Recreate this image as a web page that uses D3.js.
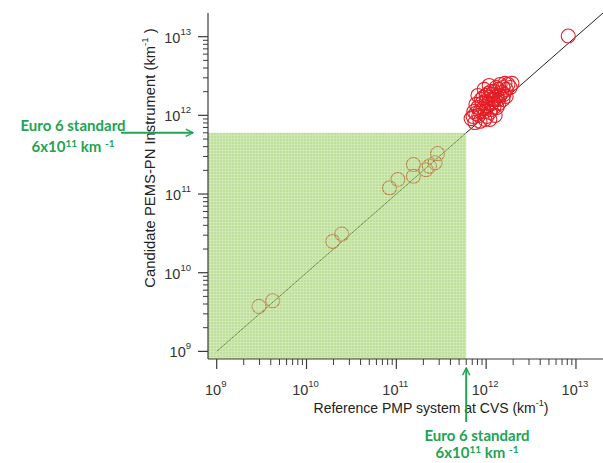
<!DOCTYPE html>
<html><head><meta charset="utf-8">
<script src="https://cdn.jsdelivr.net/npm/d3@7"></script>
<style>
html,body{margin:0;padding:0;background:#fff;}
svg{display:block;}
</style></head>
<body>
<svg id="chart" width="603" height="463"></svg>
<script>
// ---------- data ----------
const refX = [2.96e9, 4.2e9, 1.96e10, 2.47e10, 8.4e10, 1.04e11, 1.55e11, 1.55e11, 2.14e11, 2.33e11, 2.7e11, 2.88e11,
  6.8e11, 7.3e11, 7.7e11, 8.3e11, 8.8e11, 9.2e11, 9.7e11, 1.0e12, 1.05e12, 1.1e12, 1.13e12, 1.19e12, 1.22e12,
  1.29e12, 1.32e12, 1.39e12, 1.43e12, 1.5e12, 1.54e12, 1.62e12, 1.67e12, 1.75e12, 1.85e12, 8.1e11, 9.5e11,
  1.08e12, 1.26e12, 1.02e12, 8.55e11, 1.16e12, 1.36e12, 1.58e12, 1.94e12, 7.5e11, 1.1e12,
  9.0e11, 1.02e12, 1.16e12, 1.26e12, 1.08e12, 9.7e11, 8.1e11, 1.43e12, 1.22e12, 1.0e12,
  1.32e12, 1.54e12, 8.55e11, 1.13e12, 7.7e11, 1.36e12, 1.05e12, 9.24e11, 1.67e12, 7.16e11,
  8.2e12];
const candY = [3.73e9, 4.4e9, 2.5e10, 3.1e10, 1.2e11, 1.53e11, 2.37e11, 1.68e11, 2.04e11, 2.26e11, 2.5e11, 3.27e11,
  9.1e11, 1.12e12, 1.38e12, 1.0e12, 1.59e12, 1.22e12, 8.9e11, 1.79e12, 1.42e12, 1.09e12, 2.01e12, 1.59e12, 1.26e12,
  2.26e12, 1.79e12, 1.42e12, 2.47e12, 1.95e12, 1.59e12, 2.55e12, 2.14e12, 2.47e12, 2.26e12, 1.79e12, 2.14e12,
  2.4e12, 1.0e12, 9.7e11, 8.4e11, 1.85e12, 2.14e12, 1.85e12, 2.55e12, 8.1e11, 8.9e11,
  1.42e12, 1.26e12, 1.42e12, 1.59e12, 1.69e12, 1.12e12, 1.26e12, 1.79e12, 2.01e12, 1.5e12,
  1.26e12, 2.26e12, 1.12e12, 1.19e12, 1.06e12, 1.59e12, 1.9e12, 1.69e12, 1.74e12, 9.68e11,
  1.02e13];
const axisDomain = [8e8, 2e13];
const majorTicks = [1e9, 1e10, 1e11, 1e12, 1e13];
const tickExponents = ["9", "10", "11", "12", "13"];
const oneToOne = [1e9, 2e13];
const euro6Limit = 6e11;
const xLabel = "Reference PMP system at CVS (km";
const yLabel = "Candidate PEMS-PN Instrument (km";
const noteLine1 = "Euro 6 standard";
const noteLine2 = ["6x10", "11", " km ", "-1"];

// ---------- chart ----------
(function () {
const svg = d3.select("#chart");
const pLeft = 208, pRight = 603, pTop = 13, pBottom = 359;
const x = d3.scaleLog().domain(axisDomain).range([pLeft, pRight]);
const y = d3.scaleLog().domain(axisDomain).range([pBottom, pTop]);

const minor = [];
majorTicks.slice(0, -1).forEach(d => { for (let k = 2; k <= 9; k++) minor.push(d * k); });

const axisColor = "#3a3a3a";

// 1:1 line
svg.append("line")
  .attr("x1", x(oneToOne[0])).attr("y1", y(oneToOne[0]))
  .attr("x2", x(oneToOne[1])).attr("y2", y(oneToOne[1]))
  .attr("stroke", "#222").attr("stroke-width", 1);

// points
svg.append("g").selectAll("circle").data(refX.map((d, i) => [d, candY[i]])).join("circle")
  .attr("cx", d => x(d[0])).attr("cy", d => y(d[1])).attr("r", 7)
  .attr("fill", "none").attr("stroke", "#e41e26").attr("stroke-width", 1.1);

// green shaded region (semi-transparent overlay)
const defs = svg.append("defs");
const pat = defs.append("pattern").attr("id", "grid").attr("width", 3).attr("height", 3)
  .attr("patternUnits", "userSpaceOnUse");
pat.append("path").attr("d", "M0,0.5H3M0.5,0V3").attr("stroke", "#ffffff").attr("stroke-width", 0.8).attr("opacity", 0.3);

const gx0 = x(axisDomain[0]), gx1 = x(euro6Limit), gy0 = y(euro6Limit), gy1 = y(axisDomain[0]);
svg.append("rect").attr("x", gx0).attr("y", gy0).attr("width", gx1 - gx0).attr("height", gy1 - gy0)
  .attr("fill", "#92cc58").attr("opacity", 0.6);
svg.append("rect").attr("x", gx0).attr("y", gy0).attr("width", gx1 - gx0).attr("height", gy1 - gy0)
  .attr("fill", "url(#grid)");

// axes lines
svg.append("line").attr("x1", pLeft).attr("x2", pRight).attr("y1", pBottom).attr("y2", pBottom)
  .attr("stroke", axisColor).attr("stroke-width", 1.2);
svg.append("line").attr("x1", pLeft).attr("x2", pLeft).attr("y1", pTop).attr("y2", pBottom)
  .attr("stroke", axisColor).attr("stroke-width", 1.2);

// x ticks
const xt = svg.append("g");
xt.selectAll("line.maj").data(majorTicks).join("line").attr("class", "maj")
  .attr("x1", d => x(d)).attr("x2", d => x(d)).attr("y1", pBottom).attr("y2", pBottom + 10)
  .attr("stroke", axisColor).attr("stroke-width", 1.2);
xt.selectAll("line.min").data(minor).join("line").attr("class", "min")
  .attr("x1", d => x(d)).attr("x2", d => x(d)).attr("y1", pBottom).attr("y2", pBottom + 6)
  .attr("stroke", axisColor).attr("stroke-width", 1);
// y ticks
const yt = svg.append("g");
yt.selectAll("line.maj").data(majorTicks).join("line").attr("class", "maj")
  .attr("x1", pLeft - 10).attr("x2", pLeft).attr("y1", d => y(d)).attr("y2", d => y(d))
  .attr("stroke", axisColor).attr("stroke-width", 1.2);
yt.selectAll("line.min").data(minor).join("line").attr("class", "min")
  .attr("x1", pLeft - 5).attr("x2", pLeft).attr("y1", d => y(d)).attr("y2", d => y(d))
  .attr("stroke", axisColor).attr("stroke-width", 1);

const font = "'Liberation Sans', Arial, sans-serif";
// x tick labels
majorTicks.forEach((d, i) => {
  const t = svg.append("text").attr("x", x(d) - 1).attr("y", 395).attr("text-anchor", "middle")
    .attr("font-family", font).attr("font-size", 14.5).attr("fill", "#333");
  t.append("tspan").text("10");
  t.append("tspan").attr("dy", -8).attr("font-size", 9.5).text(tickExponents[i]);
});
// y tick labels
majorTicks.forEach((d, i) => {
  const t = svg.append("text").attr("x", 191).attr("y", y(d) + 6).attr("text-anchor", "end")
    .attr("font-family", font).attr("font-size", 14.5).attr("fill", "#333");
  t.append("tspan").text("10");
  t.append("tspan").attr("dy", -8).attr("font-size", 9.5).text(tickExponents[i]);
});

// axis titles
const xt2 = svg.append("text").attr("x", 431).attr("y", 413).attr("text-anchor", "middle")
  .attr("font-family", font).attr("font-size", 14).attr("fill", "#222");
xt2.append("tspan").text(xLabel);
xt2.append("tspan").attr("dy", -7).attr("font-size", 9).text("-1");
xt2.append("tspan").attr("dy", 7).text(")");

const yt2 = svg.append("text").attr("transform", "translate(155,158) rotate(-90)").attr("text-anchor", "middle")
  .attr("font-family", font).attr("font-size", 14.8).attr("fill", "#222");
yt2.append("tspan").text(yLabel);
yt2.append("tspan").attr("dy", -7).attr("font-size", 9.5).text("-1");
yt2.append("tspan").attr("dy", 7).text(" )");

// Euro 6 annotations
const green = "#21a453";
defs.append("marker").attr("id", "arr").attr("viewBox", "0 0 10 10").attr("refX", 9).attr("refY", 5)
  .attr("markerWidth", 9).attr("markerHeight", 9).attr("orient", "auto").attr("markerUnits", "userSpaceOnUse")
  .append("path").attr("d", "M1,1L9,5L1,9").attr("fill", "none").attr("stroke", green).attr("stroke-width", 1.6);

svg.append("line").attr("x1", 121).attr("x2", 193).attr("y1", gy0).attr("y2", gy0)
  .attr("stroke", green).attr("stroke-width", 2).attr("marker-end", "url(#arr)");
svg.append("line").attr("x1", gx1).attr("x2", gx1).attr("y1", 422).attr("y2", 368)
  .attr("stroke", green).attr("stroke-width", 2).attr("marker-end", "url(#arr)");

const nfont = "Lato, 'Open Sans', sans-serif";
function note(cx, y1, y2) {
  svg.append("text").attr("x", cx).attr("y", y1).attr("text-anchor", "middle")
    .attr("font-family", nfont).attr("font-weight", "bold").attr("font-size", 15).attr("fill", green)
    .text(noteLine1);
  const t = svg.append("text").attr("x", cx).attr("y", y2).attr("text-anchor", "middle")
    .attr("font-family", nfont).attr("font-weight", "bold").attr("font-size", 15).attr("fill", green);
  t.append("tspan").text(noteLine2[0]);
  t.append("tspan").attr("dy", -5).attr("font-size", 10).text(noteLine2[1]);
  t.append("tspan").attr("dy", 5).text(noteLine2[2]);
  t.append("tspan").attr("dy", -5).attr("font-size", 10).text(noteLine2[3]);
}
note(73, 131, 152);
note(477, 441, 458);
})();
</script>
</body></html>
